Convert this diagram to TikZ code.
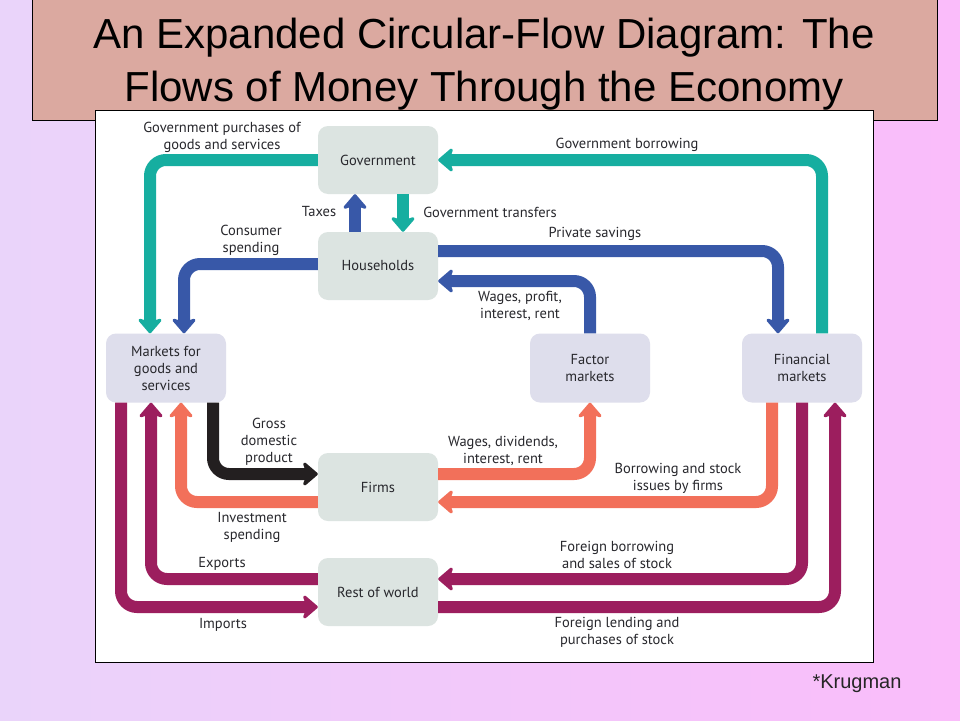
\documentclass[tikz,border=0pt]{standalone}
\usepackage{fontspec}
\setmainfont{Liberation Sans}
\newfontfamily\lblfont{PT Sans}
\usetikzlibrary{arrows.meta}
\definecolor{bgL}{RGB}{234,212,250}
\definecolor{bgR}{RGB}{250,188,250}
\definecolor{titlefill}{RGB}{219,169,160}
\definecolor{boxA}{RGB}{220,228,225}
\definecolor{boxB}{RGB}{222,222,236}
\definecolor{cteal}{RGB}{22,174,160}
\definecolor{cblue}{RGB}{56,88,168}
\definecolor{cblack}{RGB}{35,31,32}
\definecolor{csalmon}{RGB}{242,112,90}
\definecolor{cmaroon}{RGB}{156,30,94}
\definecolor{ctext}{RGB}{40,40,45}
\tikzset{
  box/.style={rounded corners=10pt, minimum width=120pt, minimum height=68pt, inner sep=2pt,
    align=center, font=\lblfont\fontsize{14.5}{17}\selectfont, text=ctext},
  boxa/.style={box, fill=boxA},
  boxb/.style={box, fill=boxB},
  band/.style={line width=12pt, rounded corners=16pt,
    -{Stealth[length=17pt, width=29pt, inset=5pt, round=false]}},
  lbl/.style={align=center, font=\lblfont\fontsize{14.5}{17}\selectfont, text=ctext, inner sep=0pt},
  ttl/.style={font=\fontsize{42}{53}\selectfont, text=black, anchor=base, inner sep=0pt},
}
\begin{document}
\begin{tikzpicture}[x=1pt,y=-1pt]
\useasboundingbox (0,0) rectangle (960,720);
\shade[left color=bgL, right color=bgR] (0,0) rectangle (960,720);
% title
\node[draw=black, line width=1pt, fill=titlefill, minimum width=905pt, minimum height=121pt, anchor=north west,
  inner sep=0pt] (titlebox) at (32,-1) {};
\node[ttl] (title1) at (484,48) {An Expanded Circular-Flow Diagram: The};
\node[ttl] (title2) at (484,101) {Flows of Money Through the Economy};
% diagram panel
\node[draw=black, line width=1pt, fill=white, minimum width=778pt, minimum height=552pt, anchor=north west,
  inner sep=0pt] (panel) at (95,110) {};
% boxes
\node[boxa] (gov) at (378,160) {Government};
\node[boxa] (hh) at (378,266) {Households};
\node[boxb, minimum height=69pt] (mkt) at (166,368) {Markets for\\goods and\\services};
\node[boxb, minimum height=69pt] (fac) at (590,368) {Factor\\markets};
\node[boxb, minimum height=69pt] (fin) at (802,368) {Financial\\markets};
\node[boxa] (firms) at (378,487) {Firms};
\node[boxa] (row) at (378,592) {Rest of world};
% teal
\draw[band, cteal] (gov.west) -| ([xshift=-16pt]mkt.north);
\draw[band, cteal] ([xshift=20pt]fin.north) |- (gov.east);
\draw[band, cteal] ([xshift=25pt]gov.south) -- ([xshift=25pt]hh.north);
% blue
\draw[band, cblue] ([xshift=-23pt]hh.north) -- ([xshift=-23pt]gov.south);
\draw[band, cblue] ([yshift=2pt]hh.west) -| ([xshift=18pt]mkt.north);
\draw[band, cblue] ([yshift=15pt]hh.east) -| ([xshift=-24pt]fin.north);
\draw[band, cblue] (fac.north) |- ([yshift=-15pt]hh.east);
% black
\draw[band, cblack] ([xshift=47pt]mkt.south) |- ([yshift=13pt]firms.west);
% salmon
\draw[band, csalmon] ([yshift=-15pt]firms.west) -| ([xshift=15pt]mkt.south);
\draw[band, csalmon] ([yshift=13pt]firms.east) -| (fac.south);
\draw[band, csalmon] ([xshift=-30pt]fin.south) |- ([yshift=-15pt]firms.east);
% maroon
\draw[band, cmaroon] ([yshift=13pt]row.west) -| ([xshift=-15pt]mkt.south);
\draw[band, cmaroon] ([xshift=-45pt]mkt.south) |- ([yshift=-15pt]row.west);
\draw[band, cmaroon] (fin.south) |- ([yshift=13pt]row.east);
\draw[band, cmaroon] ([yshift=-15pt]row.east) -| ([xshift=33pt]fin.south);
% labels
\node[lbl] (l1) at (222,137) {Government purchases of\\goods and services};
\node[lbl] (l2) at (627,145) {Government borrowing};
\node[lbl] (l3) at (319,212) {Taxes};
\node[lbl] (l4) at (490,212) {Government transfers};
\node[lbl] (l5) at (251,240) {Consumer\\spending};
\node[lbl] (l6) at (595,234) {Private savings};
\node[lbl] (l7) at (520,306) {Wages, profit,\\interest, rent};
\node[lbl] (l8) at (269,442) {Gross\\domestic\\product};
\node[lbl] (l9) at (503,451) {Wages, dividends,\\interest, rent};
\node[lbl] (l10) at (678,478) {Borrowing and stock\\issues by firms};
\node[lbl] (l11) at (252,527) {Investment\\spending};
\node[lbl] (l12) at (222,564) {Exports};
\node[lbl] (l13) at (617,555) {Foreign borrowing\\and sales of stock};
\node[lbl] (l14) at (223,625) {Imports};
\node[lbl] (l15) at (617,632) {Foreign lending and\\purchases of stock};
% footnote
\node[font=\fontsize{20}{24}\selectfont, text=black!85] (foot) at (857,684) {*Krugman};
\end{tikzpicture}
\end{document}
